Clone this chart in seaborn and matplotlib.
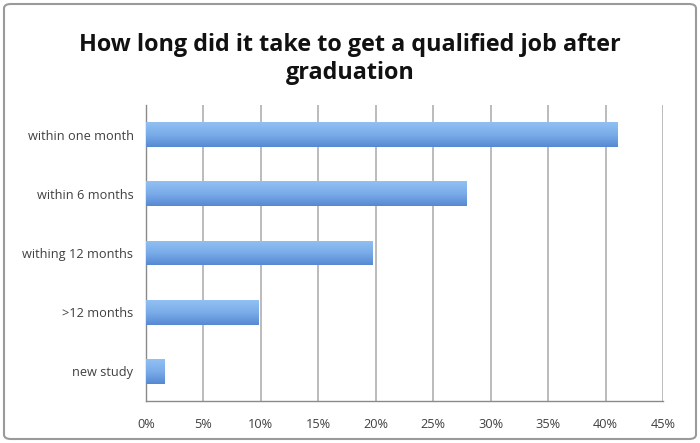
import matplotlib
matplotlib.use("Agg")
import matplotlib.pyplot as plt
import seaborn as sns
import pandas as pd
import numpy as np
from matplotlib.patches import FancyBboxPatch
from matplotlib.ticker import FuncFormatter, FixedLocator
from matplotlib.colors import LinearSegmentedColormap

categories = ["within one month", "within 6 months", "withing 12 months", ">12 months", "new study"]
values = [41.0, 27.9, 19.7, 9.8, 1.6]
xticks = [0, 5, 10, 15, 20, 25, 30, 35, 40, 45]
title = "How long did it take to get a qualified job after\ngraduation"

sns.set_theme(style="white")
plt.rcParams['font.family'] = ['Open Sans', 'DejaVu Sans']

df = pd.DataFrame({"category": categories, "value": values})

fig = plt.figure(figsize=(7, 4.43), dpi=100)
ax = fig.add_axes([146/700, 1-401/443, (663-146)/700, (401-105)/443])

sns.barplot(data=df, y="category", x="value", orient="h", color="#6f9fe0",
            width=0.42, ax=ax, zorder=3, linewidth=0)

# gradient overlay on bars
grad = np.linspace(0, 1, 64).reshape(-1, 1)
cmap = LinearSegmentedColormap.from_list("g", ["#92c0f2", "#7aacea", "#5789d2"])
for p in ax.patches:
    x0, y0 = p.get_x(), p.get_y()
    w, h = p.get_width(), p.get_height()
    im = ax.imshow(grad, extent=[x0, x0 + w, y0 + h, y0], aspect="auto",
                   cmap=cmap, zorder=4, origin="upper")
    im.set_clip_path(p)

ax.set_xlim(0, 45)
ax.set_ylim(4.5, -0.5)
ax.xaxis.set_major_locator(FixedLocator(xticks))
ax.xaxis.set_major_formatter(FuncFormatter(lambda v, _: f"{int(v)}%"))
ax.grid(axis="x", color="#b5b5b5", linewidth=1.3, zorder=0)
ax.set_axisbelow(True)
ax.set_xlabel("")
ax.set_ylabel("")

for s in ["top", "right"]:
    ax.spines[s].set_visible(False)
for s in ["left", "bottom"]:
    ax.spines[s].set_color("#8a8a8a")
    ax.spines[s].set_linewidth(1.0)

ax.tick_params(axis="x", length=5, color="#b5b5b5", width=1.3, labelsize=9.2,
               labelcolor="#404040", pad=7)
ax.tick_params(axis="y", length=0, labelsize=9.2, labelcolor="#404040", pad=9)
ax.set_yticks(range(len(categories)))
ax.set_yticklabels(categories)
ax.set_yticks(np.arange(-0.5, len(categories), 1.0), minor=True)
ax.tick_params(axis="y", which="minor", length=4, color="#8a8a8a", width=1.0)

fig.text(0.5, 1-59/443, title, ha="center", va="center", fontsize=16.8,
         fontweight="bold", color="#111111", linespacing=1.25)

border = FancyBboxPatch((4/700, 4/443), 692/700, 435/443,
                        boxstyle="round,pad=0,rounding_size=0.01",
                        transform=fig.transFigure, fill=False,
                        edgecolor="#9a9a9a", linewidth=1.5)
fig.patches.append(border)

fig.savefig("out.png", dpi=100)
